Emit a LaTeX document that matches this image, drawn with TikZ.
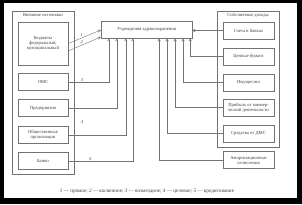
\documentclass[tikz,border=0pt]{standalone}
\usepackage{fontspec}
\setmainfont{Liberation Serif}
\usetikzlibrary{positioning,shapes,arrows,calc}
\newcommand\fs{\fontsize{4.6}{5}\selectfont}
\tikzset{
  grp/.style={draw=black!55,line width=0.4pt,minimum width=62pt,inner sep=0pt},
  src/.style={draw=black!55,line width=0.4pt,minimum width=50pt,minimum height=17pt,align=center,inner sep=0.5pt,font=\fs,text=black!75},
  link/.style={draw=black!55,line width=0.4pt,->,>=stealth},
  num/.style={font=\fs\itshape,text=black!75,inner sep=0.5pt}
}

\begin{document}
\begin{tikzpicture}[x=1pt,y=-1pt]
    % Page
    \fill[black] (0,0) rectangle (302,204);
    \fill[white] (4,3) rectangle (297,198);
    \useasboundingbox (0,0) rectangle (302,204);

    % External sources
    \node[grp,minimum height=163pt] (ext) at (43,92.5) {};
    \node[below=1.5pt of ext.north,font=\fs,text=black!75,inner sep=0.5pt] (extt) {Внешние источники};
    \node[src,minimum height=43pt] (bud) at (43,43.5) {Бюджеты\\федеральный,\\муниципальный};
    \node[src] (oms) at (43,82) {ОМС};
    \node[src] (ent) at (43,108) {Предприятия};
    \node[src] (pub) at (43,135) {Общественные\\организации};
    \node[src] (bank) at (43,161) {Банки};

    % Health care
    \node[src,minimum width=91pt] (hc) at (146.5,29.5) {Учреждения здравоохранения};

    % Own income
    \node[grp,minimum height=136pt] (own) at (248,79) {};
    \node[below=1.5pt of own.north,font=\fs,text=black!75,inner sep=0.5pt] (ownt) {Собственные доходы};
    \node[src,minimum width=51pt] (acc) at (248.5,30.5) {Счета в банках};
    \node[src,minimum width=51pt] (sec) at (248.5,56.5) {Ценные бумаги};
    \node[src,minimum width=51pt] (prop) at (248.5,82.5) {Имущество};
    \node[src,minimum width=51pt] (prof) at (248.5,107.5) {Прибыль от коммер-\\ческой деятельности};
    \node[src,minimum width=51pt] (dms) at (248.5,133.5) {Средства от ДМС};
    \node[src,minimum width=51pt] (amo) at (248.5,160) {Амортизационные\\отчисления};

    % Left links
    \draw[link] (bud.east) -- node[num,pos=0.42,above=1pt] (l1) {1} ([yshift=-0.5pt]hc.west);
    \draw[link] ([yshift=-7.5pt]bud.east) -- node[num,pos=0.42,above=1pt] (l2) {2} ([yshift=-7.5pt]hc.west);
    \draw[link] (oms.east) -| node[num,pos=0.17,above] (l3) {3} ($(hc.south west)+(8,0)$);
    \draw[link] (ent.east) -| ($(hc.south west)+(16,0)$);
    \draw[link] (pub.east) -| ($(hc.south west)+(25,0)$);
    \draw[link] (bank.east) -| node[num,pos=0.17,above] (l5) {5} ($(hc.south west)+(32,0)$);
    \node[num] (l4) at (82,122) {4};

    % Right links
    \draw[link] (acc.west) -- (acc.west -| hc.east);
    \draw[link] (sec.west) -| ($(hc.south east)+(-2,0)$);
    \draw[link] (prop.west) -| ($(hc.south east)+(-9,0)$);
    \draw[link] (prof.west) -| ($(hc.south east)+(-17,0)$);
    \draw[link] (dms.west) -| ($(hc.south east)+(-25,0)$);
    \draw[link] (amo.west) -| ($(hc.south east)+(-33,0)$);

    % Legend
    \node[font=\fontsize{5.2}{6}\selectfont,text=black!75] (cap) at (147,191) {\textit{1} — прямое; \textit{2} — косвенное; \textit{3} — возмездное; \textit{4} — целевое; \textit{5} — кредитование};
\end{tikzpicture}
\end{document}
